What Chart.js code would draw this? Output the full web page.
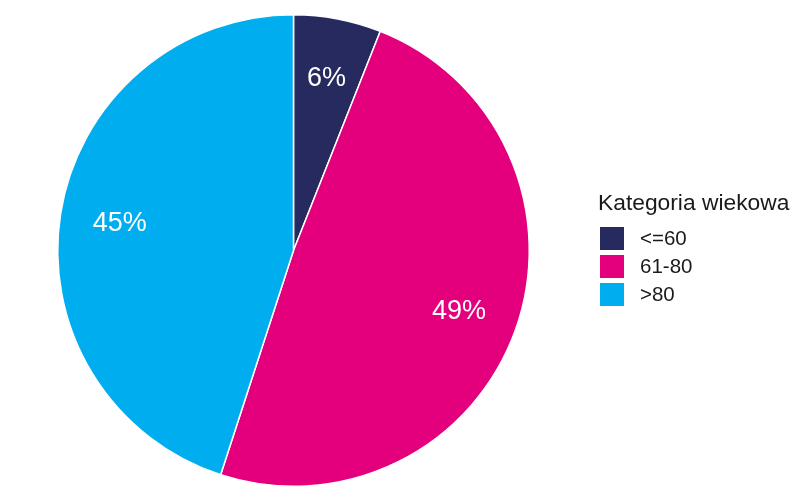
<!DOCTYPE html>
<html>
<head>
<meta charset="utf-8">
<script src="https://cdn.jsdelivr.net/npm/chart.js@4"></script>
<style>
  html, body { margin: 0; padding: 0; background: #fff; }
  #wrap { width: 800px; height: 493px; }
</style>
</head>
<body>
<div id="wrap"><canvas id="chart" width="800" height="493"></canvas></div>
<script>
// dane wykresu
const categories = ['<=60', '61-80', '>80'];
const shares = [6, 49, 45];
const colors = ['#262A5E', '#E4007D', '#00AEEF'];
const legendTitle = 'Kategoria wiekowa';

// etykiety procentowe wewnątrz wycinków
const sliceLabels = {
  id: 'sliceLabels',
  afterDatasetsDraw(chart) {
    const ctx = chart.ctx;
    const meta = chart.getDatasetMeta(0);
    ctx.save();
    ctx.fillStyle = '#ffffff';
    ctx.font = '27px "Liberation Sans", Arial, sans-serif';
    ctx.textAlign = 'center';
    ctx.textBaseline = 'middle';
    meta.data.forEach((arc, i) => {
      const p = arc.getProps(['x', 'y', 'startAngle', 'endAngle', 'outerRadius'], true);
      const mid = (p.startAngle + p.endAngle) / 2;
      const r = p.outerRadius * 0.746;
      ctx.fillText(shares[i] + '%', p.x + Math.cos(mid) * r, p.y + Math.sin(mid) * r + 1);
    });
    ctx.restore();
  }
};

// legenda po prawej stronie
const sideLegend = {
  id: 'sideLegend',
  afterDraw(chart) {
    const ctx = chart.ctx;
    ctx.save();
    ctx.fillStyle = '#1a1a1a';
    ctx.textBaseline = 'middle';
    ctx.textAlign = 'left';
    ctx.font = '22.8px "Liberation Sans", Arial, sans-serif';
    ctx.fillText(legendTitle, 598, 204);
    ctx.font = '20.5px "Liberation Sans", Arial, sans-serif';
    categories.forEach((c, i) => {
      const y = 227 + i * 28;
      ctx.fillStyle = colors[i];
      ctx.fillRect(600, y, 24, 23);
      ctx.fillStyle = '#1a1a1a';
      ctx.fillText(c, 640, y + 12);
    });
    ctx.restore();
  }
};

new Chart(document.getElementById('chart'), {
  type: 'pie',
  data: {
    labels: categories,
    datasets: [{
      data: shares,
      backgroundColor: colors,
      borderColor: '#ffffff',
      borderWidth: 1.5
    }]
  },
  options: {
    responsive: false,
    animation: false,
    layout: { padding: { left: 57, right: 270, top: 14, bottom: 6 } },
    plugins: {
      legend: { display: false },
      tooltip: { enabled: false }
    }
  },
  plugins: [sliceLabels, sideLegend]
});
</script>
</body>
</html>
